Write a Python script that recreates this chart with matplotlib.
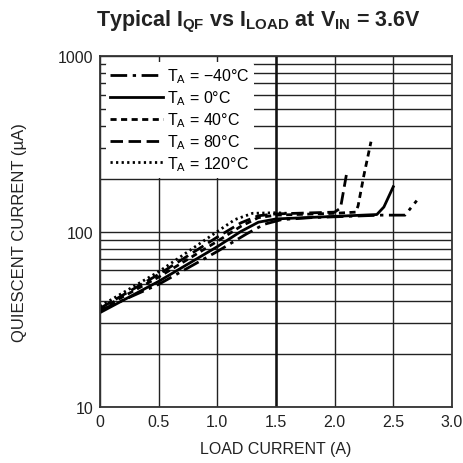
import matplotlib

matplotlib.use("Agg")
import matplotlib.pyplot as plt
from matplotlib import font_manager

FONT = "Liberation Sans Narrow"
names = {f.name for f in font_manager.fontManager.ttflist}
if FONT not in names:
    FONT = "Liberation Sans"
plt.rcParams["font.family"] = [FONT, "DejaVu Sans"]
plt.rcParams["mathtext.fontset"] = "custom"
plt.rcParams["mathtext.rm"] = FONT

# curves (load current in A, quiescent current in uA)
x_m40 = [0, 0.5, 1.0, 1.25, 1.4, 1.55, 1.8, 2.1, 2.4, 2.6, 2.7]
y_m40 = [35.5, 50, 77, 97, 110, 117, 120, 122, 124, 124, 150]

x_0 = [0, 0.5, 1.0, 1.2, 1.35, 1.5, 2.0, 2.36, 2.42, 2.5]
y_0 = [34.5, 52, 82, 100, 113, 118, 122, 125, 138, 180]

x_40 = [0, 0.5, 1.0, 1.2, 1.35, 1.5, 2.0, 2.18, 2.2, 2.25, 2.31]
y_40 = [36, 55, 88, 107, 120, 124, 127, 129, 140, 210, 325]

x_80 = [0, 0.5, 1.0, 1.2, 1.35, 1.5, 2.0, 2.05, 2.1]
y_80 = [36.5, 57, 93, 112, 123, 126, 129, 136, 210]

x_120 = [0, 0.5, 1.0, 1.15, 1.3, 1.5, 1.6]
y_120 = [37.5, 59, 100, 117, 127, 128, 127]

labels = ["−40°C", "0°C", "40°C", "80°C", "120°C"]
styles = [(0, (6, 2, 1.2, 2)), "-", (0, (2.2, 1.6)), (0, (4.5, 2)), (0, (0.8, 1.2))]

fig = plt.figure(figsize=(4.64, 4.64), dpi=100)
ax = fig.add_axes([0.2155, 0.1207, 0.7585, 0.7563])

series = [(x_m40, y_m40), (x_0, y_0), (x_40, y_40), (x_80, y_80), (x_120, y_120)]
for (xs, ys), lab, ls in zip(series, labels, styles):
    ax.plot(xs, ys, color="black", lw=2.0, linestyle=ls,
            label=r"T$_{\mathregular{A}}$ = " + lab)

ax.set_yscale("log")
ax.set_xlim(0, 3.0)
ax.set_ylim(10, 1000)
ax.set_xticks([0, 0.5, 1.0, 1.5, 2.0, 2.5, 3.0])
ax.set_xticklabels(["0", "0.5", "1.0", "1.5", "2.0", "2.5", "3.0"])
ax.set_yticks([10, 100, 1000])
ax.set_yticklabels(["10", "100", "1000"])
ax.yaxis.set_minor_formatter(matplotlib.ticker.NullFormatter())
ax.tick_params(which="both", length=0, labelsize=11.5, pad=5, colors="#222222")

ax.grid(True, which="major", color="#222222", lw=1.0)
ax.grid(True, which="minor", axis="y", color="#222222", lw=1.0)
ax.axvline(1.5, color="#111111", lw=1.8, zorder=1)
for s in ax.spines.values():
    s.set_color("#333333")
    s.set_linewidth(1.3)
ax.set_axisbelow(True)

ax.set_xlabel("LOAD CURRENT (A)", fontsize=11.5, labelpad=9, color="#222222")
ax.set_ylabel("QUIESCENT CURRENT (µA)", fontsize=12, labelpad=22, color="#222222")

leg = ax.legend(loc="upper left", fontsize=11.5, frameon=True, handlelength=3.3,
                handletextpad=0.25, labelspacing=0.2, borderaxespad=0.35,
                borderpad=0.3)
leg.get_frame().set_edgecolor("none")
leg.get_frame().set_facecolor("white")
leg.get_frame().set_alpha(1.0)

fig.text(0.558, 0.9526,
         r"Typical I$_{\mathregular{QF}}$ vs I$_{\mathregular{LOAD}}$ at "
         r"V$_{\mathregular{IN}}$ = 3.6V",
         ha="center", va="center", fontsize=15.5, fontweight="bold",
         color="#222222")

fig.savefig("out.png", dpi=100)
